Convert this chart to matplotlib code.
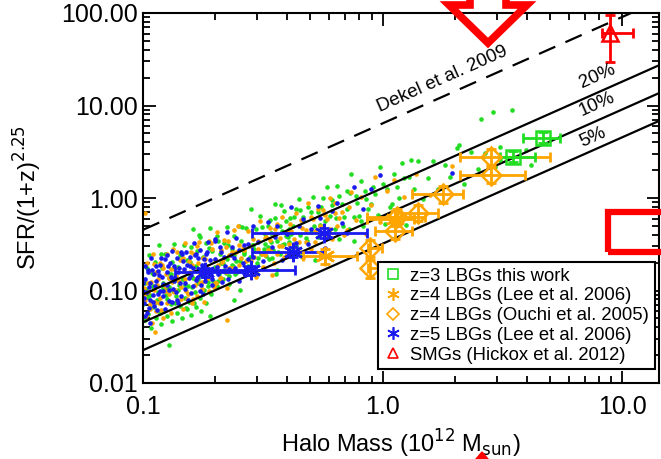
import numpy as np
import matplotlib
matplotlib.use('Agg')
import matplotlib.pyplot as plt
from matplotlib.lines import Line2D
from matplotlib.patches import Polygon, Rectangle
from matplotlib.ticker import FormatStrFormatter, LogLocator, NullFormatter

plt.rcParams['font.family'] = ['Liberation Sans', 'DejaVu Sans']

# (log10 halo mass [1e12 Msun], log10 SFR/(1+z)^2.25) of the model galaxies
green_pts = [(-0.99,-0.92),(-0.985,-0.76),(-0.98,-1.07),(-0.975,-0.62),(-0.97,-1.19),(-0.96,-0.82),(-0.955,-0.97),(-0.95,-0.69),(-0.94,-1.10),(-0.935,-0.51),
    (-0.93,-1.24),(-0.92,-0.76),(-0.915,-0.97),(-0.91,-0.61),(-0.90,-1.09),(-0.895,-0.81),(-0.89,-0.87),(-0.88,-0.69),(-0.875,-1.01),(-0.87,-0.50),
    (-0.86,-1.12),(-0.855,-0.75),(-0.85,-0.94),(-0.84,-0.61),(-0.835,-0.88),(-0.83,-0.51),(-0.82,-1.19),(-0.815,-0.67),(-0.81,-0.82),(-0.80,-0.53),
    (-0.795,-0.96),(-0.79,-0.34),(-0.78,-0.73),(-0.775,-0.57),(-0.77,-0.88),(-0.76,-0.42),(-0.755,-1.00),(-0.75,-0.64),(-0.74,-0.78),(-0.735,-0.49),
    (-0.73,-0.91),(-0.72,-0.32),(-0.715,-1.04),(-0.71,-0.57),(-0.70,-0.78),(-0.69,-0.41),(-0.685,-0.90),(-0.68,-0.61),(-0.67,-0.67),(-0.66,-0.49),
    (-0.655,-0.81),(-0.65,-0.31),(-0.64,-0.93),(-0.63,-0.55),(-0.625,-0.73),(-0.62,-0.41),(-0.61,-0.68),(-0.60,-0.30),(-0.595,-0.99),(-0.59,-0.47),
    (-0.58,-0.61),(-0.57,-0.32),(-0.56,-0.74),(-0.55,-0.12),(-0.54,-0.51),(-0.53,-0.34),(-0.52,-0.65),(-0.51,-0.19),(-0.50,-0.76),(-0.49,-0.39),
    (-0.48,-0.53),(-0.47,-0.24),(-0.46,-0.65),(-0.45,-0.06),(-0.44,-0.78),(-0.43,-0.30),(-0.42,-0.51),(-0.41,-0.14),(-0.40,-0.62),(-0.39,-0.33),
    (-0.38,-0.39),(-0.37,-0.21),(-0.36,-0.52),(-0.35,-0.01),(-0.34,-0.63),(-0.33,-0.25),(-0.32,-0.43),(-0.31,-0.10),(-0.30,-0.37),(-0.29,0.01),
    (-0.28,-0.67),(-0.27,-0.15),(-0.26,-0.29),(-0.25,0.00),(-0.24,-0.42),(-0.23,0.12),(-0.22,-0.19),(-0.21,-0.02),(-0.20,-0.33),(-0.19,0.13),
    (-0.18,-0.44),(-0.17,-0.07),(-0.16,-0.21),(-0.15,0.08),(-0.14,-0.33),(-0.13,0.26),(-0.12,-0.46),(-0.11,0.02),(-0.10,-0.19),(-0.09,0.18),
    (-0.08,-0.30),(-0.07,-0.01),(-0.05,-0.06),(-0.04,0.12),(-0.02,-0.18),(-0.01,0.33),(0.01,-0.28),(0.02,0.10),(0.04,-0.07),(0.05,0.26),
    (0.07,0.00),(0.08,0.38),(0.10,-0.29),(0.11,0.23),(0.13,0.10),(0.15,0.40),(0.17,-0.01),(0.19,0.22),(0.21,0.40),(0.23,0.10),
    (0.26,0.36),(0.28,0.23),(0.31,0.54),(0.34,0.15),(0.37,0.50),(0.40,0.31),(0.43,0.49),(0.47,0.33),(0.41,0.85),(0.46,0.93),
    (0.54,0.95),(0.32,0.57),(0.12,0.41),(0.49,0.55),(0.49,0.41),(0.60,0.52),(0.62,0.36),
    (-0.995,-1.00),(-0.965,-0.80),(-0.945,-1.12),(-0.925,-0.61),(-0.905,-0.97),(-0.885,-0.82),(-0.865,-1.13),(-0.845,-0.62),(-0.825,-0.94),(-0.805,-0.69),
    (-0.785,-1.14),(-0.765,-0.40),(-0.745,-0.73),(-0.725,-0.54),(-0.705,-0.94),(-0.685,-0.46),(-0.665,-0.70),(-0.645,-0.51),(-0.615,-0.82),(-0.585,-0.31),
    (-0.565,-0.67),(-0.545,-0.51),(-0.525,-0.82),(-0.505,-0.31),(-0.485,-0.63),(-0.465,-0.38),(-0.445,-0.82),(-0.425,-0.08),(-0.405,-0.41),(-0.385,-0.22),
    (-0.365,-0.62),(-0.345,-0.13),(-0.89,-1.59),(-0.72,-1.28),(-0.62,-1.10),
    (-0.998,-1.15),(-0.992,-1.32),(-0.986,-0.98),(-0.978,-1.25),(-0.972,-1.05),(-0.966,-1.40),(-0.958,-0.95),(-0.952,-1.18),(-0.946,-1.30),(-0.938,-1.02),
    (-0.932,-1.12),(-0.926,-1.36),(-0.918,-0.92),(-0.912,-1.22),(-0.904,-1.05),(-0.898,-1.28),(-0.892,-0.96),(-0.884,-1.15),(-0.878,-1.33),(-0.872,-0.90),
    (-0.864,-1.06),(-0.858,-1.24),(-0.852,-0.99),(-0.846,-1.17),(-0.838,-1.30),(-0.832,-0.88),(-0.826,-1.08),(-0.818,-1.20),(-0.812,-0.95),(-0.806,-1.12),
    (-0.798,-1.26),(-0.792,-0.86),(-0.784,-1.02),(-0.778,-1.18),(-0.772,-0.92),(-0.764,-1.08),(-0.758,-1.22),(-0.752,-0.84),(-0.744,-0.99),(-0.738,-1.14),
    (-0.730,-0.95),(-0.722,-1.02),(-0.716,-0.80),(-0.708,-0.90),(-0.700,-0.75),(-0.692,-0.95),(-0.684,-0.82),(-0.676,-0.70),(-0.668,-0.88),(-0.660,-0.78),
    (-0.650,-0.66),(-0.640,-0.84),(-0.630,-0.72),(-0.618,-0.62),(-0.606,-0.80),(-0.594,-0.68),(-0.580,-0.58),(-0.566,-0.75),(-0.552,-0.64),(-0.538,-0.55),
    (-0.522,-0.70),(-0.506,-0.60),(-0.490,-0.50),(-0.474,-0.66),(-0.458,-0.56),(-0.442,-0.46),(-0.426,-0.60),(-0.410,-0.50),(-0.394,-0.42),(-0.378,-0.55),
    (-0.495,-0.55),(-0.48,-0.30),(-0.465,-0.48),(-0.45,-0.22),(-0.435,-0.58),(-0.42,-0.36),(-0.405,-0.25),(-0.39,-0.48),(-0.375,-0.30),(-0.36,-0.12),
    (-0.345,-0.40),(-0.33,-0.20),(-0.315,-0.46),(-0.30,-0.15),(-0.285,-0.30),(-0.27,-0.42),(-0.255,-0.10),(-0.24,-0.25),(-0.225,-0.36),(-0.21,-0.08),
    (-0.195,-0.22),(-0.18,0.02),(-0.165,-0.30),(-0.15,-0.12),(-0.135,0.05),(-0.12,-0.20),(-0.105,-0.05),(-0.09,-0.25),(-0.075,0.08),(-0.06,-0.12),
    (-0.03,0.04),(0.0,0.15),(0.03,-0.10),(0.06,0.12),(0.09,0.22)]

orange_pts = [(-1.0,-0.89),(-0.99,-1.10),(-0.985,-0.70),(-0.98,-1.02),(-0.975,-0.79),(-0.97,-1.20),(-0.965,-0.91),(-0.96,-0.61),(-0.95,-1.12),(-0.945,-0.80),
    (-0.94,-0.94),(-0.93,-0.70),(-0.925,-1.21),(-0.92,-0.72),(-0.91,-1.00),(-0.905,-0.82),(-0.90,-0.60),(-0.89,-1.04),(-0.885,-0.77),(-0.88,-0.91),
    (-0.87,-0.77),(-0.865,-0.99),(-0.86,-0.58),(-0.85,-0.91),(-0.845,-0.67),(-0.84,-1.09),(-0.83,-0.79),(-0.825,-0.49),(-0.82,-1.00),(-0.81,-0.68),
    (-0.805,-0.81),(-0.80,-0.58),(-0.79,-1.09),(-0.785,-0.60),(-0.78,-0.88),(-0.77,-0.70),(-0.765,-0.48),(-0.76,-0.92),(-0.75,-0.65),(-0.745,-0.79),
    (-0.74,-0.66),(-0.73,-0.87),(-0.725,-0.46),(-0.72,-0.79),(-0.71,-0.55),(-0.705,-0.96),(-0.70,-0.67),(-0.69,-0.37),(-0.68,-0.87),(-0.675,-0.56),
    (-0.67,-0.69),(-0.66,-0.45),(-0.65,-0.97),(-0.645,-0.47),(-0.64,-0.76),(-0.63,-0.58),(-0.62,-0.35),(-0.61,-0.79),(-0.60,-0.51),(-0.59,-0.65),
    (-0.58,-0.56),(-0.57,-0.77),(-0.56,-0.36),(-0.55,-0.68),(-0.54,-0.44),(-0.53,-0.85),(-0.52,-0.55),(-0.51,-0.25),(-0.50,-0.75),(-0.49,-0.43),
    (-0.48,-0.56),(-0.47,-0.32),(-0.46,-0.83),(-0.45,-0.33),(-0.44,-0.61),(-0.43,-0.43),(-0.42,-0.20),(-0.41,-0.64),(-0.40,-0.36),(-0.39,-0.50),
    (-0.38,-0.36),(-0.37,-0.57),(-0.36,-0.16),(-0.35,-0.48),(-0.34,-0.24),(-0.33,-0.65),(-0.32,-0.35),(-0.31,-0.05),(-0.30,-0.55),(-0.29,-0.23),
    (-0.28,-0.36),(-0.27,-0.12),(-0.26,-0.63),(-0.25,-0.13),(-0.24,-0.41),(-0.23,-0.23),(-0.22,0.00),(-0.21,-0.44),(-0.20,-0.16),(-0.19,-0.30),
    (-0.17,-0.15),(-0.15,-0.35),(-0.13,0.07),(-0.11,-0.24),(-0.09,0.01),(-0.07,-0.39),(-0.05,-0.08),(-0.03,0.23),(-0.01,-0.26),(0.02,0.08),
    (0.05,0.20),(0.09,0.01),(0.14,0.26),(0.20,0.03),(0.29,0.35),(-0.99,-0.16),(-0.95,-1.45),(-0.65,-1.32),
    (-0.995,-0.97),(-0.955,-0.71),(-0.935,-1.13),(-0.915,-0.76),(-0.895,-1.00),(-0.875,-0.55),(-0.855,-0.89),(-0.835,-0.65),(-0.815,-1.09),(-0.795,-0.72),
    (-0.775,-0.52),(-0.755,-0.91),(-0.735,-0.73),(-0.715,-0.49),(-0.695,-0.92),(-0.655,-0.53),(-0.635,-0.76),(-0.605,-0.30),
    (-0.996,-1.05),(-0.988,-1.28),(-0.980,-0.92),(-0.970,-1.15),(-0.962,-1.35),(-0.954,-0.99),(-0.944,-1.22),(-0.936,-0.88),(-0.928,-1.08),(-0.918,-1.30),
    (-0.908,-0.95),(-0.900,-1.14),(-0.890,-0.86),(-0.882,-1.24),(-0.872,-1.02),(-0.862,-0.84),(-0.852,-1.12),(-0.842,-0.96),(-0.834,-1.20),(-0.824,-0.88),
    (-0.814,-1.04),(-0.804,-0.80),(-0.794,-1.14),(-0.784,-0.94),(-0.774,-1.06),(-0.764,-0.82),(-0.754,-0.98),(-0.744,-1.12),(-0.734,-0.86),(-0.724,-1.00),
    (-0.712,-0.78),(-0.700,-0.92),(-0.688,-0.72),(-0.676,-0.86),(-0.664,-0.66),(-0.652,-0.80),(-0.640,-0.62),(-0.626,-0.76),(-0.612,-0.58),(-0.598,-0.72),
    (-0.584,-0.54),(-0.568,-0.68),(-0.552,-0.52),(-0.536,-0.64),(-0.520,-0.46),(-0.504,-0.60),(-0.486,-0.42),(-0.468,-0.56),(-0.450,-0.40),(-0.432,-0.52),
    (-0.49,-0.62),(-0.47,-0.45),(-0.455,-0.70),(-0.44,-0.28),(-0.42,-0.52),(-0.40,-0.62),(-0.385,-0.28),(-0.37,-0.44),(-0.35,-0.58),(-0.335,-0.32),
    (-0.32,-0.48),(-0.30,-0.20),(-0.28,-0.48),(-0.26,-0.30),(-0.24,-0.18),(-0.22,-0.34),(-0.20,-0.05),(-0.18,-0.22),(-0.16,-0.40),(-0.14,-0.10)]

blue_pts = [(-1.0,-0.92),(-0.995,-1.14),(-0.99,-0.73),(-0.985,-1.02),(-0.98,-0.80),(-0.975,-1.19),(-0.97,-0.92),(-0.965,-0.65),(-0.96,-1.05),(-0.955,-0.82),
    (-0.95,-0.95),(-0.945,-0.73),(-0.94,-1.21),(-0.935,-0.83),(-0.93,-1.00),(-0.925,-0.65),(-0.92,-0.85),(-0.915,-1.06),(-0.91,-0.66),(-0.90,-0.94),
    (-0.895,-0.73),(-0.89,-1.11),(-0.885,-0.85),(-0.88,-0.57),(-0.875,-0.98),(-0.87,-0.74),(-0.865,-0.87),(-0.86,-0.65),(-0.855,-1.13),(-0.85,-0.76),
    (-0.845,-0.92),(-0.84,-0.58),(-0.83,-0.77),(-0.825,-0.98),(-0.82,-0.58),(-0.81,-0.86),(-0.805,-0.64),(-0.80,-1.03),(-0.79,-0.76),(-0.785,-0.49),
    (-0.78,-0.89),(-0.77,-0.65),(-0.765,-0.78),(-0.76,-0.56),(-0.75,-1.04),(-0.745,-0.66),(-0.74,-0.83),(-0.73,-0.48),(-0.72,-0.67),(-0.71,-0.88),
    (-0.70,-0.47),(-0.69,-0.75),(-0.68,-0.53),(-0.67,-0.91),(-0.66,-0.64),(-0.65,-0.37),(-0.64,-0.77),(-0.63,-0.53),(-0.62,-0.65),(-0.61,-0.43),
    (-0.60,-0.90),(-0.58,-0.51),(-0.56,-0.66),(-0.54,-0.30),(-0.52,-0.48),(-0.50,-0.68),(-0.48,-0.26),(-0.46,-0.53),(-0.44,-0.30),(-0.42,-0.67),
    (-0.40,-0.39),(-0.38,-0.10),(-0.36,-0.49),(-0.33,-0.23),(-0.30,-0.33),(-0.27,-0.09),(-0.24,-0.54),(-0.21,-0.14),(-0.17,-0.27),(-0.12,0.12),
    (-0.01,0.25),(0.29,0.27),
    (-0.998,-1.01),(-0.978,-0.78),(-0.958,-1.12),(-0.938,-0.79),(-0.918,-1.01),(-0.898,-0.62),(-0.878,-0.86),(-0.858,-1.10),(-0.838,-0.61),(-0.818,-0.72),
    (-0.798,-0.83),(-0.778,-0.60),(-0.758,-0.94),(-0.738,-0.61),(-0.718,-0.83),(-0.698,-0.44),(-0.97,-1.35),(-0.99,-1.28),
    (-0.997,-1.08),(-0.991,-0.88),(-0.983,-1.24),(-0.977,-0.96),(-0.969,-1.10),(-0.961,-0.78),(-0.953,-1.17),(-0.947,-0.90),(-0.939,-1.04),(-0.931,-0.72),
    (-0.923,-1.14),(-0.917,-0.93),(-0.909,-1.20),(-0.901,-0.80),(-0.893,-0.99),(-0.887,-0.70),(-0.879,-1.12),(-0.871,-0.90),(-0.863,-1.02),(-0.853,-0.80),
    (-0.843,-1.06),(-0.833,-0.68),(-0.823,-0.92),(-0.813,-1.10),(-0.803,-0.74),(-0.793,-0.95),(-0.783,-0.62),(-0.773,-0.86),(-0.763,-1.00),(-0.753,-0.72),
    (-0.743,-0.90),(-0.733,-0.58),(-0.723,-0.80),(-0.711,-0.94),(-0.699,-0.66),(-0.687,-0.82),(-0.673,-0.58),(-0.659,-0.74),(-0.645,-0.88),(-0.631,-0.62),
    (-0.615,-0.76),(-0.599,-0.56),(-0.581,-0.70),(-0.561,-0.50),(-0.541,-0.64),
    (-0.45,-0.42),(-0.35,-0.30),(-0.31,-0.50),(-0.26,-0.22),(-0.19,-0.05),(-0.15,-0.38),(-0.08,-0.12),(-0.05,0.10)]

# z=3 LBGs this work
lbg3_m = [3.51, 4.68]
lbg3_mlo = [3.10, 3.86]
lbg3_mhi = [4.33, 5.51]
lbg3_s = [2.78, 4.47]
lbg3_slo = [2.42, 3.90]
lbg3_shi = [3.20, 5.15]

# z=4 LBGs Lee et al. 2006
lee4_m = [0.575, 1.13]
lee4_mlo = [0.466, 0.86]
lee4_mhi = [0.783, 1.36]
lee4_s = [0.235, 0.60]
lee4_slo = [0.195, 0.50]
lee4_shi = [0.283, 0.72]

# z=4 LBGs Ouchi et al. 2005
ouchi_m = [0.887, 0.887, 1.127, 1.15, 1.41, 1.79, 2.84, 2.84]
ouchi_mlo = [0.873, 0.873, 0.93, 0.861, 1.15, 1.33, 2.11, 2.11]
ouchi_mhi = [0.998, 0.998, 1.33, 1.50, 1.71, 2.17, 3.94, 5.0]
ouchi_s = [0.287, 0.174, 0.439, 0.622, 0.688, 1.10, 1.78, 2.78]
ouchi_slo = [0.233, 0.135, 0.357, 0.506, 0.56, 0.89, 1.45, 2.26]
ouchi_shi = [0.353, 0.215, 0.54, 0.765, 0.846, 1.35, 2.19, 3.42]

# z=5 LBGs Lee et al. 2006
lee5_m = [0.182, 0.282, 0.423, 0.570]
lee5_mlo = [0.136, 0.176, 0.285, 0.285]
lee5_mhi = [0.267, 0.432, 0.570, 0.861]
lee5_s = [0.158, 0.166, 0.260, 0.418]
lee5_slo = [0.141, 0.148, 0.232, 0.373]
lee5_shi = [0.177, 0.186, 0.292, 0.469]

# SMGs Hickox et al. 2012
smg_m = [8.9]
smg_mlo = [8.26]
smg_mhi = [11.1]
smg_s = [61.5]
smg_slo = [29.8]
smg_shi = [94.0]

dekel_norm = 6.4      # SFR/(1+z)^2.25 at 1e12 Msun
dekel_slope = 1.15
efficiencies = [0.20, 0.10, 0.05]
eff_labels = ['20%', '10%', '5%']

GREEN = '#22dd22'
ORANGE = '#ffa500'
BLUE = '#1a1aee'
RED = '#ff0000'

fig = plt.figure(figsize=(6.61, 4.59), dpi=100)
W, H = 661.0, 459.0
ax = fig.add_axes([143 / W, 1 - 383 / H, (659 - 143) / W, (383 - 13) / H])
ax.set_xscale('log')
ax.set_yscale('log')
ax.set_xlim(0.1, 10 ** (-1 + 516 / 239.5))
ax.set_ylim(0.01, 100)

for pts, col in [(green_pts, GREEN), (orange_pts, ORANGE), (blue_pts, BLUE)]:
    arr = np.array(pts)
    ax.scatter(10 ** arr[:, 0], 10 ** arr[:, 1], s=11, c=col, linewidths=0, zorder=2)

mgrid = np.logspace(-1, 1.2, 50)
ax.plot(mgrid, dekel_norm * mgrid ** dekel_slope, color='k', lw=1.6, ls=(0, (8, 5)), zorder=3)
for eff in efficiencies:
    ax.plot(mgrid, eff * dekel_norm * mgrid ** dekel_slope, color='k', lw=1.6, zorder=3)

ast = (6, 2, 0)


def errpts(m, mlo, mhi, s, slo, shi, col, marker, ms):
    m, mlo, mhi = np.array(m), np.array(mlo), np.array(mhi)
    s, slo, shi = np.array(s), np.array(slo), np.array(shi)
    ax.errorbar(m, s, xerr=[m - mlo, mhi - m], yerr=[s - slo, shi - s], fmt='none',
                ecolor=col, elinewidth=2.0, capsize=3.5, capthick=2.0, zorder=4)
    ax.plot(m, s, ls='none', marker=marker, ms=ms, mfc='none', mec=col, mew=1.8, zorder=5)


errpts(lee5_m, lee5_mlo, lee5_mhi, lee5_s, lee5_slo, lee5_shi, BLUE, ast, 14)
errpts(lee4_m, lee4_mlo, lee4_mhi, lee4_s, lee4_slo, lee4_shi, ORANGE, ast, 14)
errpts(ouchi_m, ouchi_mlo, ouchi_mhi, ouchi_s, ouchi_slo, ouchi_shi, ORANGE, 'D', 10)
errpts(lbg3_m, lbg3_mlo, lbg3_mhi, lbg3_s, lbg3_slo, lbg3_shi, GREEN, 's', 10.5)
errpts(smg_m, smg_mlo, smg_mhi, smg_s, smg_slo, smg_shi, RED, '^', 11)

ax.text(0.976, 8.56, 'Dekel et al. 2009', fontsize=13.5, rotation=24,
        rotation_mode='anchor', ha='left', va='baseline', zorder=6)
for lab, yy in zip(eff_labels, [15.6, 7.74, 3.57]):
    ax.text(6.8, yy, lab, fontsize=13.5, rotation=24, rotation_mode='anchor',
            ha='left', va='baseline', zorder=6)

ax.xaxis.set_major_locator(LogLocator(base=10, numticks=10))
ax.yaxis.set_major_locator(LogLocator(base=10, numticks=10))
ax.xaxis.set_minor_locator(LogLocator(base=10, subs=np.arange(2, 10), numticks=20))
ax.yaxis.set_minor_locator(LogLocator(base=10, subs=np.arange(2, 10), numticks=20))
ax.xaxis.set_major_formatter(FormatStrFormatter('%.1f'))
ax.yaxis.set_major_formatter(FormatStrFormatter('%.2f'))
ax.xaxis.set_minor_formatter(NullFormatter())
ax.yaxis.set_minor_formatter(NullFormatter())
ax.tick_params(which='both', direction='in', top=True, right=True, width=1.3)
ax.tick_params(which='major', length=9, labelsize=18)
ax.tick_params(which='minor', length=5)
ax.tick_params(axis='x', pad=9)
ax.tick_params(axis='y', pad=4)
for sp in ax.spines.values():
    sp.set_linewidth(1.5)

ax.set_xlabel('Halo Mass (10$^{12}$ M$_{\\rm sun}$)', fontsize=17, labelpad=6)
ax.set_ylabel('SFR/(1+z)$^{2.25}$', fontsize=17, labelpad=12)

handles = [
    Line2D([], [], ls='none', marker='s', ms=6.5, mfc='none', mec=GREEN, mew=1.2),
    Line2D([], [], ls='none', marker=ast, ms=9, mfc='none', mec=ORANGE, mew=1.2),
    Line2D([], [], ls='none', marker='D', ms=6, mfc='none', mec=ORANGE, mew=1.2),
    Line2D([], [], ls='none', marker=ast, ms=9, mfc='none', mec=BLUE, mew=1.2),
    Line2D([], [], ls='none', marker='^', ms=7.5, mfc='none', mec=RED, mew=1.2),
]
labels = ['z=3 LBGs this work', 'z=4 LBGs (Lee et al. 2006)', 'z=4 LBGs (Ouchi et al. 2005)',
          'z=5 LBGs (Lee et al. 2006)', 'SMGs (Hickox et al. 2012)']
leg = ax.legend(handles, labels, loc='upper left', bbox_to_anchor=(0.455, 0.327),
                fontsize=13.3, frameon=True, fancybox=False, framealpha=1,
                edgecolor='k', handlelength=1.0, handletextpad=0.45,
                labelspacing=0.15, borderpad=0.3, borderaxespad=0)
leg.get_frame().set_linewidth(1.5)
leg.set_zorder(7)


def px(x, y):
    return (x / W, 1 - y / H)


arrow = Polygon([px(470, -30), px(470, 5), px(449, 5), px(488, 43), px(527, 5),
                 px(506, 5), px(506, -30)], closed=True, fill=False, ec=RED, lw=5.5,
                transform=fig.transFigure, joinstyle='miter', zorder=10)
fig.patches.append(arrow)
box = Rectangle(px(608, 252), (700 - 608) / W, (252 - 212) / H, fill=False, ec=RED,
                lw=4.5, transform=fig.transFigure, zorder=10)
fig.patches.append(box)
diamond = Polygon([px(482, 452), px(488, 459), px(482, 466), px(476, 459)], closed=True,
                  fc=RED, ec=RED, lw=1, transform=fig.transFigure, zorder=10)
fig.patches.append(diamond)

fig.savefig('out.png', dpi=100)
